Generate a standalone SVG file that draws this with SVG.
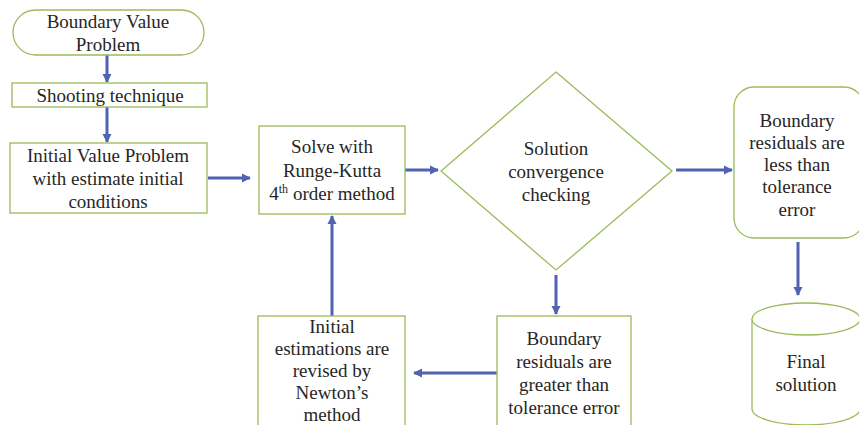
<svg xmlns="http://www.w3.org/2000/svg" width="859" height="425" viewBox="0 0 859 425">
<defs>
<marker id="ah" markerWidth="10" markerHeight="10" refX="8" refY="5" orient="auto" markerUnits="userSpaceOnUse">
<path d="M0,0.5 L9,5 L0,9.5 Z" fill="#4f63b0"/>
</marker>
<style>
.n{fill:#fff;stroke:#9bbb59;stroke-width:1.3}
.t{font-family:"Liberation Serif","Times New Roman",serif;font-size:19px;fill:#262626;text-anchor:middle}
.c{stroke:#4f63b0;stroke-width:3;fill:none;marker-end:url(#ah)}
</style>
</defs>
<rect width="859" height="425" fill="#fff"/>
<g id="connectors">
<line class="c" x1="107" y1="55" x2="107" y2="82"/>
<line class="c" x1="107" y1="107" x2="107" y2="142"/>
<line class="c" x1="208" y1="178" x2="250" y2="178"/>
<line class="c" x1="405" y1="170" x2="438" y2="170"/>
<line class="c" x1="676" y1="170" x2="732" y2="170"/>
<line class="c" x1="798" y1="242" x2="798" y2="295"/>
<line class="c" x1="556" y1="275" x2="556" y2="314"/>
<line class="c" x1="497" y1="373" x2="414" y2="373"/>
<line class="c" x1="332" y1="316" x2="332" y2="216"/>
</g>
<g id="bvp">
<rect class="n" x="13" y="10" width="191" height="45" rx="22.5"/>
<text class="t" x="108" y="28">Boundary Value</text>
<text class="t" x="108" y="51">Problem</text>
</g>
<g id="shooting">
<rect class="n" x="12" y="83" width="195" height="24"/>
<text class="t" x="110" y="102">Shooting technique</text>
</g>
<g id="ivp">
<rect class="n" x="10" y="143" width="197" height="70"/>
<text class="t" x="108" y="162">Initial Value Problem</text>
<text class="t" x="108" y="185">with estimate initial</text>
<text class="t" x="108" y="208">conditions</text>
</g>
<g id="rk4">
<rect class="n" x="259" y="126" width="146" height="88"/>
<text class="t" x="332" y="153">Solve with</text>
<text class="t" x="332" y="177">Runge-Kutta</text>
<text class="t" x="332" y="200">4<tspan font-size="12" dy="-7">th</tspan><tspan dy="7"> order method</tspan></text>
</g>
<g id="convergence">
<polygon class="n" points="556,72 672,171 556,270 441,171"/>
<text class="t" x="556" y="155">Solution</text>
<text class="t" x="556" y="178">convergence</text>
<text class="t" x="556" y="201">checking</text>
</g>
<g id="less">
<rect class="n" x="734" y="87" width="130" height="151" rx="20"/>
<text class="t" x="797" y="127">Boundary</text>
<text class="t" x="797" y="149">residuals are</text>
<text class="t" x="797" y="171">less than</text>
<text class="t" x="797" y="193">tolerance</text>
<text class="t" x="797" y="216">error</text>
</g>
<g id="final">
<path class="n" d="M752,319 L752,409 A54,16 0 0 0 860,409 L860,319 A54,16 0 0 0 752,319 Z"/>
<path class="n" d="M752,319 A54,16 0 0 0 860,319" fill="none"/>
<text class="t" x="806" y="368">Final</text>
<text class="t" x="806" y="391">solution</text>
</g>
<g id="greater">
<rect class="n" x="497" y="316" width="134" height="115"/>
<text class="t" x="564" y="345">Boundary</text>
<text class="t" x="564" y="368">residuals are</text>
<text class="t" x="564" y="391">greater than</text>
<text class="t" x="564" y="414">tolerance error</text>
</g>
<g id="newton">
<rect class="n" x="258" y="316" width="147" height="115"/>
<text class="t" x="332" y="333">Initial</text>
<text class="t" x="332" y="355">estimations are</text>
<text class="t" x="332" y="377">revised by</text>
<text class="t" x="332" y="399">Newton’s</text>
<text class="t" x="332" y="421">method</text>
</g>
</svg>
